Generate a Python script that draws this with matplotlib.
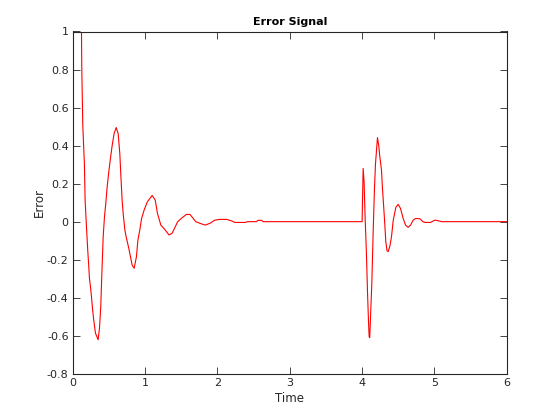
import matplotlib
matplotlib.use("Agg")
import matplotlib.pyplot as plt
from matplotlib.ticker import FuncFormatter

# values
time = [
    0.12, 0.124, 0.138, 0.161, 0.17, 0.19, 0.207, 0.221, 0.23, 0.245,
    0.258, 0.272, 0.286, 0.30, 0.313, 0.332, 0.35, 0.369, 0.387, 0.40, 0.42,
    0.438, 0.456, 0.475, 0.50, 0.52, 0.544, 0.571, 0.60, 0.627, 0.65, 0.664,
    0.682, 0.696, 0.72, 0.737, 0.774, 0.82, 0.848, 0.88, 0.90, 0.926, 0.95,
    0.986, 1.03, 1.097, 1.14, 1.17, 1.217, 1.27, 1.33, 1.373, 1.45, 1.50,
    1.57, 1.62, 1.70, 1.76, 1.83, 1.894, 1.963, 2.03, 2.125, 2.19, 2.24,
    2.38, 2.42, 2.54, 2.56, 2.61, 2.63,
    4.0, 4.003, 4.014, 4.027, 4.041, 4.06, 4.074, 4.088, 4.097, 4.105,
    4.116, 4.134, 4.152, 4.171, 4.185, 4.199, 4.212, 4.23, 4.245, 4.268,
    4.28, 4.295, 4.314, 4.327, 4.345, 4.36, 4.383, 4.406, 4.43, 4.466,
    4.498, 4.53, 4.567, 4.60, 4.636, 4.67, 4.705, 4.742, 4.80, 4.84, 4.866,
    4.945, 5.005, 5.05, 5.1, 6.0,
]
error = [
    1.0, 0.81, 0.507, 0.297, 0.113, -0.035, -0.154, -0.237, -0.297, -0.345,
    -0.394, -0.455, -0.507, -0.548, -0.586, -0.604, -0.621, -0.56, -0.443, -0.292, -0.079,
    0.026, 0.096, 0.183, 0.27, 0.332, 0.40, 0.463, 0.495, 0.463, 0.358, 0.245,
    0.113, 0.044, -0.044, -0.079, -0.14, -0.228, -0.245, -0.184, -0.097, -0.044, 0.015,
    0.061, 0.104, 0.138, 0.113, 0.044, -0.018, -0.04, -0.07, -0.061, 0.0, 0.017,
    0.038, 0.038, 0.0, -0.009, -0.018, -0.009, 0.008, 0.012, 0.012, 0.005, -0.004,
    -0.004, 0.0, 0.0, 0.007, 0.007, 0.0,
    0.0, 0.07, 0.28, 0.21, 0.026, -0.175, -0.368, -0.525, -0.604, -0.61,
    -0.5, -0.324, -0.06, 0.18, 0.306, 0.376, 0.442, 0.40, 0.34, 0.27,
    0.18, 0.096, -0.018, -0.105, -0.154, -0.157, -0.13, -0.079, 0.008, 0.075,
    0.091, 0.07, 0.017, -0.018, -0.03, -0.018, 0.008, 0.017, 0.015, 0.0, -0.004,
    -0.004, 0.008, 0.005, 0.0, 0.0,
]
x_ticks = [0, 1, 2, 3, 4, 5, 6]
y_ticks = [-0.8, -0.6, -0.4, -0.2, 0, 0.2, 0.4, 0.6, 0.8, 1]

plt.rcParams["font.family"] = ["DejaVu Sans"]
plt.rcParams["axes.unicode_minus"] = False

fig = plt.figure(figsize=(5.6, 4.2), dpi=100)
ax = fig.add_axes([0.13, 0.11, 0.775, 0.815])
ax.plot(time, error, color="red", linewidth=0.8)

ax.set_xlim(0, 6)
ax.set_ylim(-0.8, 1)
ax.set_xticks(x_ticks)
ax.set_yticks(y_ticks)
ax.yaxis.set_major_formatter(FuncFormatter(lambda v, p: "%g" % round(v, 2)))
ax.tick_params(direction="in", top=True, right=True, length=5, width=0.6,
               labelsize=8, colors="#262626", pad=3)
for s in ax.spines.values():
    s.set_color("#262626")
    s.set_linewidth(0.8)

ax.set_title("Error Signal", fontsize=8, fontweight="bold", pad=5)
ax.set_xlabel("Time", fontsize=8.5, color="#262626", labelpad=3)
ax.set_ylabel("Error", fontsize=8.5, color="#262626", labelpad=1)

fig.savefig("out.png", dpi=100)
